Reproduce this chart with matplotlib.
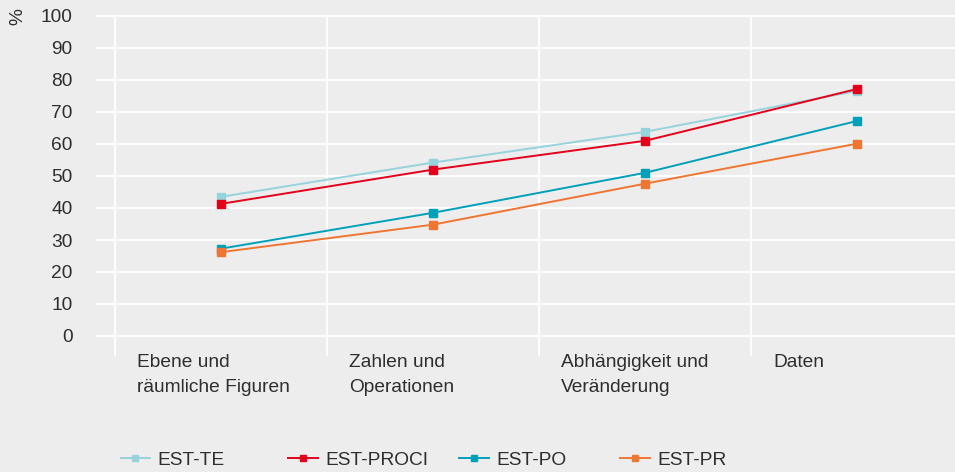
import matplotlib
matplotlib.use("Agg")
import matplotlib.pyplot as plt
from matplotlib.lines import Line2D

# Data
categories = ["Ebene und\nräumliche Figuren", "Zahlen und\nOperationen",
              "Abhängigkeit und\nVeränderung", "Daten"]
est_te = [43.5, 54.2, 63.8, 76.6]
est_proci = [41.3, 52.0, 61.0, 77.2]
est_po = [27.3, 38.5, 51.0, 67.2]
est_pr = [26.2, 34.8, 47.6, 60.1]
y_ticks = [0, 10, 20, 30, 40, 50, 60, 70, 80, 90, 100]

series = [
    ("EST-TE", est_te, "#96d3dc"),
    ("EST-PROCI", est_proci, "#e2001a"),
    ("EST-PO", est_po, "#00a0b8"),
    ("EST-PR", est_pr, "#ef7632"),
]

bg = "#ededed"
txt = "#2e2e2e"
fs = 13.8
plt.rcParams["font.family"] = ["Liberation Sans", "DejaVu Sans"]
plt.rcParams["font.size"] = fs

fig = plt.figure(figsize=(9.55, 4.72), dpi=100, facecolor=bg)
ax = fig.add_axes([96 / 955, 1 - 356.8 / 472, 1 - 96 / 955, (356.8 - 12.8) / 472])
ax.set_facecolor(bg)
for s in ax.spines.values():
    s.set_visible(False)

x = list(range(len(categories)))
ax.set_xlim(-0.59, 3.462)
ax.set_ylim(-6.5, 101)

# white grid
for t in y_ticks:
    ax.axhline(t, color="white", lw=1.3, zorder=1)
ax.vlines([i - 0.5 for i in x], -6.25, 100, color="white", lw=1.3, zorder=1)

for name, vals, col in series:
    ax.plot(x, vals, color=col, lw=1.4, marker="s", ms=6, label=name, zorder=3)

ax.set_yticks(y_ticks)
ax.set_xticks([])
ax.tick_params(axis="y", length=0, pad=17, labelcolor=txt, labelsize=fs)

ax.text(-0.59 - 78 / 212, 99.8, "%", rotation=90, ha="center", va="center",
        color=txt, fontsize=fs, clip_on=False)

for i, lab in enumerate(categories):
    ax.text(i - 0.395, -5.6, lab, ha="left", va="top", color=txt, fontsize=fs,
            linespacing=1.6, clip_on=False)

# legend, one entry per slot
legend_x = [120.5, 288, 459, 620]
for (name, vals, col), lx in zip(series, legend_x):
    h = Line2D([], [], color=col, lw=1.4, marker="s", ms=4)
    fig.legend([h], [name], loc="center left", bbox_to_anchor=(lx / 955, 1 - 460 / 472),
               frameon=False, borderpad=0, borderaxespad=0, handlelength=1.55,
               handletextpad=0.38, fontsize=fs, labelcolor=txt)

fig.savefig("out.png", dpi=100, facecolor=bg)
